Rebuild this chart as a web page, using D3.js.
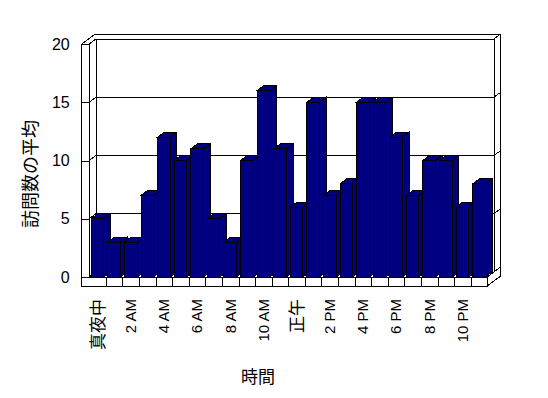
<!DOCTYPE html>
<html>
<head>
<meta charset="utf-8">
<script src="https://cdn.jsdelivr.net/npm/d3@7"></script>
<style>
body { margin: 0; background: #fff; }
svg { shape-rendering: crispEdges; }
text { font-family: "Liberation Sans", "Noto Sans CJK JP", sans-serif; fill: #000; }
</style>
</head>
<body>
<svg id="chart" width="548" height="398"></svg>
<script>
/* data */
var categories = ["真夜中", "1 AM", "2 AM", "3 AM", "4 AM", "5 AM", "6 AM", "7 AM", "8 AM", "9 AM", "10 AM", "11 AM",
                  "正午", "1 PM", "2 PM", "3 PM", "4 PM", "5 PM", "6 PM", "7 PM", "8 PM", "9 PM", "10 PM", "11 PM"];
var visits = [5, 3, 3, 7, 12, 10, 11, 5, 3, 10, 16, 11, 6, 15, 7, 8, 15, 15, 12, 7, 10, 10, 6, 8];
var tickLabels = ["真夜中", "2 AM", "4 AM", "6 AM", "8 AM", "10 AM", "正午", "2 PM", "4 PM", "6 PM", "8 PM", "10 PM"];
var yTicks = [0, 5, 10, 15, 20];
var yTitle = "訪問数の平均";
var xTitle = "時間";

var svg = d3.select("#chart");

/* front plane of the 3d box + depth offset */
var X0 = 89.3, X1 = 487.3, Y0 = 277, YT = 44;
var DX = 6.7, DY = -5;      // one depth step (front -> back plane)
var wallW = 7.6, floorH = 9;

var x = d3.scaleBand()
  .domain(categories)
  .range([X0, X1])
  .paddingInner(0.24)
  .paddingOuter(0.12);

var y = d3.scaleLinear()
  .domain([0, 20])
  .range([Y0, YT]);

var line = d3.line();
var frame = svg.append("g")
  .attr("fill", "none")
  .attr("stroke", "#000")
  .attr("stroke-width", 1);

function seg(pts) {
  frame.append("path").attr("d", line(pts));
}

// left wall front face + floor front face
frame.append("path")
  .attr("fill", "#fff")
  .attr("d", line([[X0 - wallW, YT], [X0, YT], [X0, Y0], [X1, Y0], [X1, Y0 + floorH], [X0 - wallW, Y0 + floorH]]) + "Z");

// outer edges of the box (wall thickness goes one more depth step back)
seg([[X0 - wallW, YT], [X0 - wallW + 2 * DX, YT + 2 * DY], [X1 + 2 * DX, YT + 2 * DY], [X1 + 2 * DX, Y0 + floorH + 2 * DY], [X1, Y0 + floorH]]);
seg([[X1, Y0], [X1 + 2 * DX, Y0 + 2 * DY]]);
// back plane side edges
seg([[X0 + DX, YT + DY], [X0 + DX, Y0 + DY]]);
seg([[X1 + DX, YT + DY], [X1 + DX, Y0 + DY]]);

// gridlines: left wall slant, back wall, right edge slant
yTicks.forEach(function (v) {
  var yy = y(v);
  seg([[X0, yy], [X0 + DX, yy + DY], [X1 + DX, yy + DY], [X1 + 2 * DX, yy + 2 * DY]]);
});

// floor ticks between categories
var step = x.step();
var half = (step - x.bandwidth()) / 2;
categories.slice(1).forEach(function (c) {
  var bx = Math.round(x(c) - half) + 0.5;
  seg([[bx, Y0], [bx, Y0 + floorH]]);
});

// y axis: ticks across the wall face, labels left
var yAxis = svg.append("g")
  .attr("transform", "translate(" + X0 + ",0)")
  .call(d3.axisLeft(y).tickValues(yTicks).tickSize(wallW).tickPadding(12))
  .call(function (g) { g.select(".domain").remove(); });
yAxis.selectAll("text").style("font-size", "16px").attr("fill", "#000");
yAxis.selectAll("line").attr("stroke", "#000");

// x axis labels, rotated
var xAxis = svg.append("g")
  .attr("transform", "translate(0," + (Y0 + floorH) + ")")
  .call(d3.axisBottom(x).tickValues(tickLabels).tickSize(0))
  .call(function (g) { g.select(".domain").remove(); });
xAxis.selectAll("text")
  .attr("transform", "rotate(-90)")
  .attr("text-anchor", "end")
  .attr("x", -13)
  .attr("y", 0)
  .attr("dy", "0.35em")
  .attr("fill", "#000")
  .style("font-size", function (d) { return /[^\x00-\x7f]/.test(d) ? "17px" : "15px"; });

// bars: side, top, front
var bars = svg.append("g")
  .attr("stroke", "#000")
  .attr("fill", "#000080");

categories.forEach(function (c, i) {
  var bx = x(c), bw = x.bandwidth(), by = y(visits[i]);
  bars.append("path").attr("d", line([[bx + bw, Y0], [bx + bw + DX, Y0 + DY], [bx + bw + DX, by + DY], [bx + bw, by]]) + "Z");
  bars.append("path").attr("d", line([[bx, by], [bx + DX, by + DY], [bx + bw + DX, by + DY], [bx + bw, by]]) + "Z");
  bars.append("rect")
    .attr("x", bx).attr("y", by)
    .attr("width", bw).attr("height", Y0 - by);
});

// axis titles
svg.append("text")
  .attr("transform", "translate(31,174) rotate(-90)")
  .attr("text-anchor", "middle")
  .attr("dy", "0.35em")
  .style("font-size", "18px")
  .text(yTitle);

svg.append("text")
  .attr("x", 258)
  .attr("y", 383)
  .attr("text-anchor", "middle")
  .style("font-size", "17px")
  .text(xTitle);
</script>
</body>
</html>
